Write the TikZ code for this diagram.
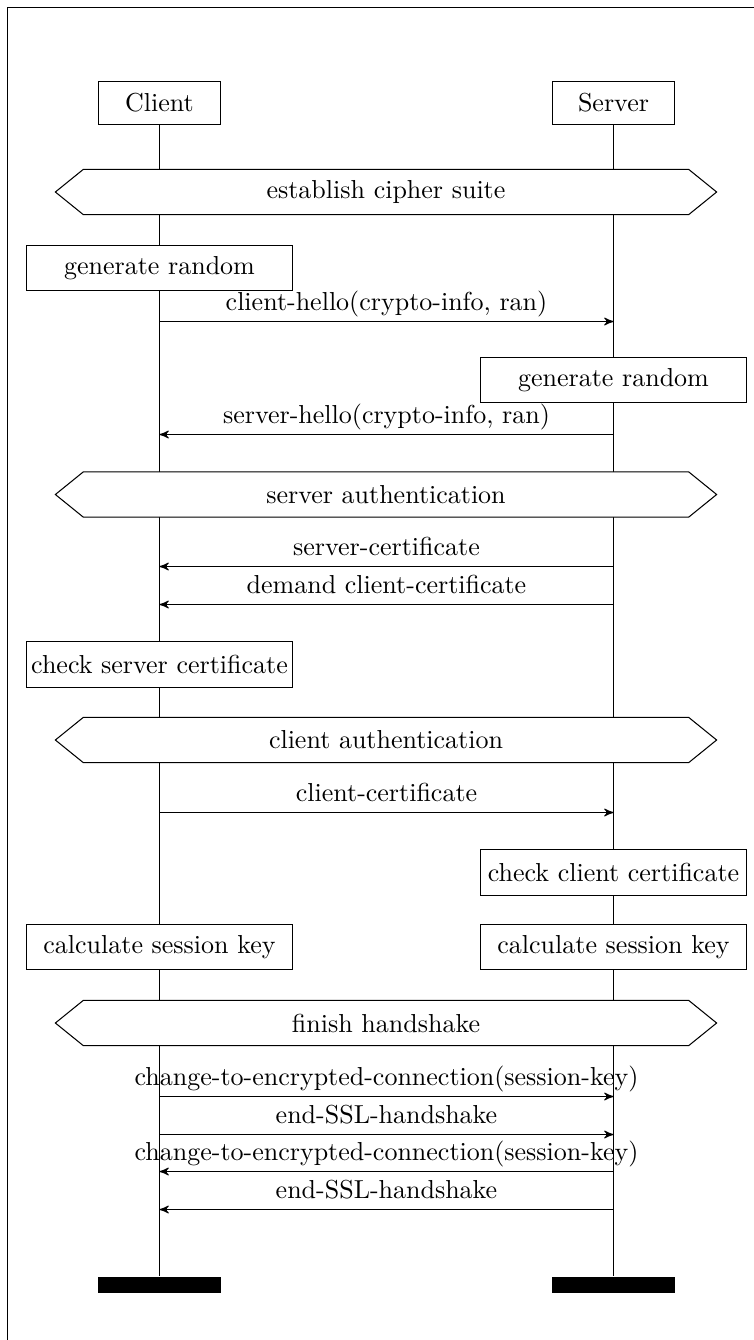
\documentclass[tikz,border=0pt]{standalone}
\usetikzlibrary{arrows,shapes.symbols}

\begin{document}
\begin{tikzpicture}[x=0.013525cm,y=-0.013525cm,>=stealth',
  inst head/.style={draw,minimum width=1.65cm,minimum height=0.57cm},
  inst end/.style={fill,minimum width=1.65cm,minimum height=0.22cm,inner sep=0pt},
  action box/.style={draw,fill=white,minimum width=3.6cm,minimum height=0.61cm,inner sep=1pt},
  condition box/.style={draw,fill=white,shape=signal,signal to=west and east,
    signal pointer angle=78,minimum width=8.94cm,minimum height=0.61cm}]

  \useasboundingbox (0,0) rectangle (754,1340);
  \draw (7.5,7.5) rectangle (900,1500);

  % instances and their lifelines
  \node[inst head] (client) at (159.5,103) {Client};
  \node[inst head] (server) at (613.5,103) {Server};
  \node[inst end] (client end) at (159.5,1285) {};
  \node[inst end] (server end) at (613.5,1285) {};
  \draw (client) -- (client end);
  \draw (server) -- (server end);

  % message levels on both lifelines
  \foreach \y [count=\i] in {321.5,434.5,566.5,604.5,812.5,1096.5,1134.5,1171.5,1209.5} {
    \coordinate (c\i) at (159.5,\y);
    \coordinate (s\i) at (613.5,\y);
  }

  \node[condition box] (cipher) at (386,192) {establish cipher suite};
  \node[action box] (client random) at (159.5,268) {generate random};
  \node[action box] (server random) at (613.5,380) {generate random};
  \node[condition box] (server auth) at (386,494.5) {server authentication};
  \node[action box] (check server) at (159.5,664.5) {check server certificate};
  \node[condition box] (client auth) at (386,740) {client authentication};
  \node[action box] (check client) at (613.5,872.5) {check client certificate};
  \node[action box] (client key) at (159.5,947) {calculate session key};
  \node[action box] (server key) at (613.5,947) {calculate session key};
  \node[condition box] (finish) at (386,1023) {finish handshake};

  \path[->,every node/.style={above,inner sep=1.5pt,text depth=2.5pt}]
    (c1) edge node {client-hello(crypto-info, ran)} (s1)
    (s2) edge node {server-hello(crypto-info, ran)} (c2)
    (s3) edge node {server-certificate} (c3)
    (s4) edge node {demand client-certificate} (c4)
    (c5) edge node {client-certificate} (s5)
    (c6) edge node {change-to-encrypted-connection(session-key)} (s6)
    (c7) edge node {end-SSL-handshake} (s7)
    (s8) edge node {change-to-encrypted-connection(session-key)} (c8)
    (s9) edge node {end-SSL-handshake} (c9);

\end{tikzpicture}
\end{document}
